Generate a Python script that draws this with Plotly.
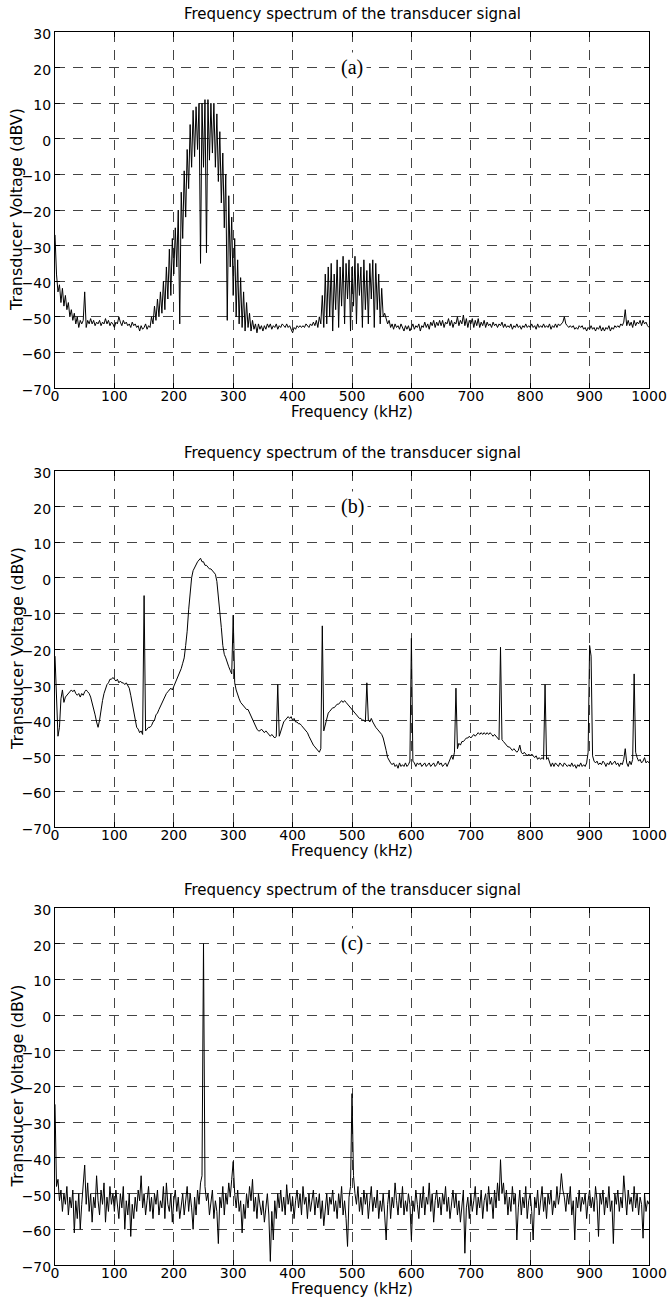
import plotly.graph_objects as go

# ---------------- data ----------------
STEP_KHZ = 2.5
freq_khz = [i * STEP_KHZ for i in range(401)]

x_ticks = [0, 100, 200, 300, 400, 500, 600, 700, 800, 900, 1000]
y_ticks = [-70, -60, -50, -40, -30, -20, -10, 0, 10, 20, 30]

panel_titles = ["Frequency spectrum of the transducer signal"] * 3
panel_tags = ["(a)", "(b)", "(c)"]

# (a) two-band excitation
spec_a = [
    -27, -38, -43, -41, -46, -42, -47, -44, -48, -46, -50, -48, -51, -49, -52, -50, -53, -51, -52, -51,
    -43, -53, -51, -52, -50.5, -52, -51, -52.5, -51.5, -52, -51, -52.5, -51.5, -52, -50.5, -52, -51, -52.5, -51.5, -52,
    -53, -51.5, -52, -50, -51.5, -52.5, -51, -52, -51.5, -52.5, -52, -53, -51.5, -52.5, -52, -53, -52.5, -54, -52.5, -53.5,
    -53, -52, -53.5, -52.5, -53, -50, -52, -47, -51, -45, -50, -43, -49, -40, -48, -36, -45, -31, -44, -28,
    -38, -25, -36, -20, -52, -15, -28, -9, -22, -3, -14, 4, -8, 8, -5, 9, -3, 10, -35, 10,
    -8, 11, -32, 11, -6, 10, -4, 10, -8, 7, -12, 2, -18, -4, -25, -10, -51, -16, -36, -22,
    -44, -28, -50, -34, -52, -39, -53, -43, -54, -46, -53, -49, -54, -51, -53.5, -52, -54.5, -52, -53.5, -52.5,
    -54, -52.5, -53.5, -52, -53, -52, -53.5, -52.5, -53, -52, -53.5, -52.5, -53, -52, -52.5, -53, -52, -53, -52.5, -53.5,
    -54.5, -53, -53.5, -52.5, -53, -52.5, -53, -52.5, -53, -52, -52.5, -53, -52, -52.5, -51.5, -52.5, -51, -53, -50, -52,
    -44, -53, -38, -52, -36, -50, -35, -54, -38, -48, -34, -53, -36, -47, -33, -52, -35, -45, -34, -54,
    -36, -47, -33, -52, -35, -44, -36, -53, -34, -48, -37, -52, -35, -45, -34, -53, -35, -48, -38, -52,
    -42, -50, -49, -51, -52, -51, -53, -52, -53.5, -52, -53, -52.5, -53.5, -52, -53, -54, -52.5, -53.5, -52.5, -54,
    -53, -52, -53.5, -52.5, -53, -52, -54, -52.5, -53, -51.5, -53, -52, -53.5, -51.5, -52.5, -51, -53, -51.5, -52.5, -51,
    -52.5, -51, -53, -51.5, -52, -50.5, -52.5, -51, -53, -51.5, -52, -50, -52.5, -51, -52, -49.5, -52.5, -50.5, -53, -51,
    -52, -50.5, -53, -51, -52.5, -50.5, -53, -51.5, -52.5, -51, -53, -51.5, -52.5, -52, -53, -51.5, -52.5, -52, -53, -52,
    -52.5, -51.5, -53, -52, -53, -52.5, -53, -52, -53.5, -52.5, -53, -52, -53, -52.5, -53.5, -52.5, -53, -52, -53, -52.5,
    -53, -52, -53, -52.5, -53.5, -52, -53, -52.5, -53, -52, -53, -52.5, -53, -52, -53.5, -52.5, -53, -52, -53, -52,
    -52.5, -52, -51.5, -50, -52, -52.5, -53, -52.5, -53, -52.5, -53.5, -53, -53.5, -52.5, -53, -52.5, -53.5, -53, -54, -53,
    -53.5, -52.5, -53.5, -53, -54, -53, -53.5, -52.5, -54, -53, -54, -53, -53.5, -52.5, -54, -53, -53.5, -52.5, -53, -52.5,
    -53, -52, -52.5, -51.5, -48, -52.5, -51, -52.5, -51.5, -53, -51, -52.5, -51.5, -52, -51, -52.5, -51, -52, -51.5, -52.5,
    -53,
]

# (b) broadband response with harmonic lines every 75 kHz
spec_b = [
    -22, -35, -44.5, -42, -34, -31.5, -35, -33.5, -33, -32.5, -32, -31.5, -32, -31.5, -32.5, -33, -32.5, -33.5, -32.5, -33,
    -32, -31.5, -32, -32.5, -33.5, -35, -36.5, -38.5, -40.5, -42, -40, -36.5, -34.5, -32.5, -31, -30, -29.5, -28.5, -28.5, -28,
    -28.5, -29, -28.5, -29.5, -29, -29.5, -29.5, -30, -29.5, -30.5, -31, -33, -35, -37.5, -40, -42, -42.5, -43.5, -43, -44,
    -5, -43, -42.5, -42, -42, -41.5, -40.5, -40, -38.5, -38, -37, -36, -35, -34.5, -33.5, -32.5, -32, -31.5, -31, -31.5,
    -30.5, -30, -29, -28, -27, -25.5, -24, -22.5, -19, -15, -9, -3, 0, 2, 3, 3.5, 4.5, 5, 5.5, 4.5,
    4.5, 3.5, 3.5, 3, 2.5, 2.5, 2, 1.5, 1, -1, -5, -10, -14, -19, -21.5, -22.5, -24, -25, -26, -27,
    -10.5, -29.5, -31.5, -33, -34, -35, -35.5, -36, -36.5, -37, -37, -38, -39, -40, -41, -42, -42.5, -43, -43, -42.5,
    -43, -43.5, -43, -43.5, -44, -44.5, -44, -44.5, -45, -44.5, -30, -44.5, -43, -41.5, -40.5, -40, -39.5, -39, -39.5, -39,
    -40, -39.5, -40.5, -40.5, -41, -41, -41.5, -42, -42.5, -43, -43.5, -44.5, -45.5, -46.5, -47, -47.5, -48, -48.5, -49, -48,
    -13.5, -43, -41, -39.5, -38, -37.5, -37, -36.5, -36.5, -36, -35.5, -35.5, -35, -34.5, -35, -34.5, -35, -35.5, -36, -36.5,
    -37, -37.5, -38, -38.5, -39, -39.5, -39.5, -40, -40, -40.5, -29.5, -40, -40.5, -39.5, -40.5, -41.5, -42, -42.5, -43, -43.5,
    -44, -45, -46.5, -48.5, -50.5, -51.5, -52, -52.5, -52, -53, -52.5, -53.5, -52, -53, -52.5, -53, -52, -53, -52.5, -51.5,
    -17, -51.5, -52, -53, -52, -52.5, -52, -53, -52.5, -52, -53, -52.5, -52, -53, -52.5, -52, -53, -52.5, -51.5, -52.5,
    -52, -53, -52.5, -52, -53, -52, -51.5, -50, -51, -49, -31, -48, -46.5, -47, -46, -46, -45.5, -45, -45, -44.5,
    -45, -44.5, -44, -44.5, -44, -43.5, -44, -43.5, -44, -43.5, -44, -43.5, -44, -43.5, -44, -44.5, -44, -44.5, -45, -45.5,
    -19.5, -45.5, -46, -46.5, -47, -47.5, -47.5, -48, -48.5, -48, -48.5, -49, -48.5, -47, -49, -49.5, -49, -49.5, -50, -49.5,
    -50, -49.5, -50, -50.5, -50, -51, -50.5, -51, -50.5, -51, -30, -51, -50.5, -52, -53, -52, -53, -52, -52.5, -53,
    -52, -52.5, -53, -52, -52.5, -53, -52.5, -53, -52, -53, -52.5, -53.5, -52.5, -53, -52, -53, -52.5, -53, -52, -49,
    -19, -22, -50, -51.5, -52, -51.5, -52.5, -52, -52.5, -51.5, -52, -53, -52, -52.5, -51.5, -52.5, -52, -51.5, -52.5, -52,
    -53, -52, -52.5, -51, -48, -52, -53, -51.5, -52.5, -51, -27, -49, -50.5, -51.5, -51, -52, -51.5, -50.5, -52, -51.5,
    -52,
]

# (c) single-tone excitation in noise
spec_c = [
    -25, -48, -46, -52, -49, -55, -50, -53, -48, -56, -51, -54, -49, -61, -52, -57, -50, -60, -53, -48,
    -42, -53, -47, -55, -50, -58, -51, -54, -45, -52, -56, -49, -53, -47, -58, -51, -55, -48, -53, -50,
    -55, -49, -53, -57, -50, -54, -48, -60, -52, -56, -50, -62, -53, -57, -51, -55, -49, -52, -45, -54,
    -50, -56, -52, -48, -55, -51, -57, -50, -53, -49, -56, -52, -54, -48, -57, -47, -53, -55, -50, -58,
    -52, -49, -55, -51, -57, -53, -50, -56, -52, -48, -55, -50, -54, -60, -51, -56, -49, -53, -47, -45,
    20, -48, -52, -50, -56, -53, -49, -57, -52, -55, -64, -51, -54, -48, -56, -50, -53, -47, -51, -46,
    -41, -50, -54, -49, -55, -52, -61, -53, -57, -50, -54, -48, -52, -46, -55, -51, -57, -50, -53, -56,
    -52, -58, -54, -50, -56, -69, -55, -63, -52, -57, -50, -54, -49, -55, -51, -56, -47.5, -53, -50, -55,
    -51, -57, -52, -49, -54, -50, -56, -48, -53, -51, -57, -50, -55, -52, -49, -56, -51, -54, -50, -57,
    -52, -59, -54, -50, -56, -51, -53, -49, -55, -52, -57, -50, -54, -48, -56, -52, -57, -64.8, -51, -48,
    -22, -45, -50, -53, -48, -55, -51, -56, -49, -53, -50, -57, -52, -48, -55, -51, -54, -49, -57, -52,
    -55, -50, -56, -63, -53, -49, -57, -51, -54, -47, -52, -56, -50, -54, -48, -56, -52, -55, -50, -53,
    -63, -52, -55, -49, -53, -57, -50, -54, -48, -56, -51, -53, -47, -55, -50, -58, -52, -49, -54, -51,
    -56, -50, -53, -48, -55, -51, -57, -52, -49, -54, -50, -56, -52, -58, -53, -49, -66.7, -54, -51, -57,
    -50, -55, -52, -48, -56, -51, -54, -49, -57, -52, -50, -55, -48, -53, -51, -57, -49, -54, -47, -52,
    -40.5, -50, -47, -53, -49, -56, -51, -55, -48, -53, -50, -63, -54, -49, -56, -51, -54, -48, -57, -52,
    -50, -55, -63, -51, -54, -49, -56, -52, -48, -55, -51, -57, -50, -53, -49, -56, -52, -54, -48, -53,
    -50, -44.4, -49, -51, -55, -50, -53, -48, -56, -52, -63, -51, -54, -49, -55, -51, -53, -50, -57, -52,
    -49, -54, -51, -55, -48, -52, -62, -50, -53, -49, -56, -51, -54, -48, -55, -52, -64, -50, -53, -49,
    -55, -51, -54, -45, -50, -56, -49, -53, -51, -55, -48, -54, -50, -56, -51, -53, -62.5, -50, -55, -52,
    -53,
]

spectra = [spec_a, spec_b, spec_c]
for s in spectra:
    assert len(s) == len(freq_khz), len(s)

# ---------------- layout helpers ----------------
W, H = 668, 1302
L_PX, R_PX = 55, 649
panel_px = [(32, 388), (471, 827), (908, 1265)]  # top, bottom in px


def py(px):
    return 1 - px / H


def pxx(px):
    return (px - L_PX) / (R_PX - L_PX)


FONT = "DejaVu Sans"
fig = go.Figure()
annotations = []
for k, (spec, (top, bot)) in enumerate(zip(spectra, panel_px)):
    n = "" if k == 0 else str(k + 1)
    fig.add_trace(go.Scatter(
        x=freq_khz, y=spec, mode="lines",
        line=dict(color="black", width=1),
        xaxis="x" + n, yaxis="y" + n, showlegend=False,
        hoverinfo="skip",
    ))
    common = dict(
        showline=True, linecolor="black", linewidth=1, mirror="allticks",
        ticks="inside", ticklen=5, tickcolor="black",
        showgrid=True, gridcolor="#444", gridwidth=1, griddash="10px,8px",
        zeroline=False, automargin=False, ticklabeloverflow="allow",
        tickfont=dict(family=FONT, size=14, color="black"),
    )
    fig.layout["xaxis" + n] = dict(
        common, domain=[0, 1], range=[0, 1000], tickvals=x_ticks,
        anchor="y" + n, ticklabelstandoff=-5,
    )
    fig.layout["yaxis" + n] = dict(
        common, domain=[py(bot), py(top)], range=[-70, 30], tickvals=y_ticks,
        anchor="x" + n, ticklabelstandoff=0, ticklabelshift=2,
    )
    # panel title
    annotations.append(dict(
        text=panel_titles[k], xref="paper", yref="paper",
        x=0.5, y=py(top - 18), xanchor="center", yanchor="middle",
        showarrow=False, font=dict(family=FONT, size=15, color="black"),
    ))
    # x-axis title
    annotations.append(dict(
        text="Frequency (kHz)", xref="paper", yref="paper",
        x=0.5, y=py(bot + 24), xanchor="center", yanchor="middle",
        showarrow=False, font=dict(family=FONT, size=15, color="black"),
    ))
    # y-axis title
    annotations.append(dict(
        text="Transducer Voltage (dBV)", xref="paper", yref="paper",
        x=pxx(17), y=py((top + bot) / 2), xanchor="center", yanchor="middle",
        textangle=-90, showarrow=False,
        font=dict(family=FONT, size=16, color="black"),
    ))
    # panel tag
    annotations.append(dict(
        text=panel_tags[k], xref="x" + n, yref="y" + n,
        x=500, y=20, xanchor="center", yanchor="middle",
        showarrow=False, bgcolor="white", borderpad=3,
        font=dict(family="Liberation Serif", size=20, color="black"),
    ))

fig.update_layout(
    width=W, height=H,
    margin=dict(l=L_PX, r=W - R_PX, t=0, b=0, autoexpand=False),
    paper_bgcolor="white", plot_bgcolor="white",
    annotations=annotations, showlegend=False,
)

fig.write_html(
    "out.html",
    config={"displayModeBar": False},
    post_script="document.body.style.margin='0px';document.body.style.overflow='hidden';",
)
